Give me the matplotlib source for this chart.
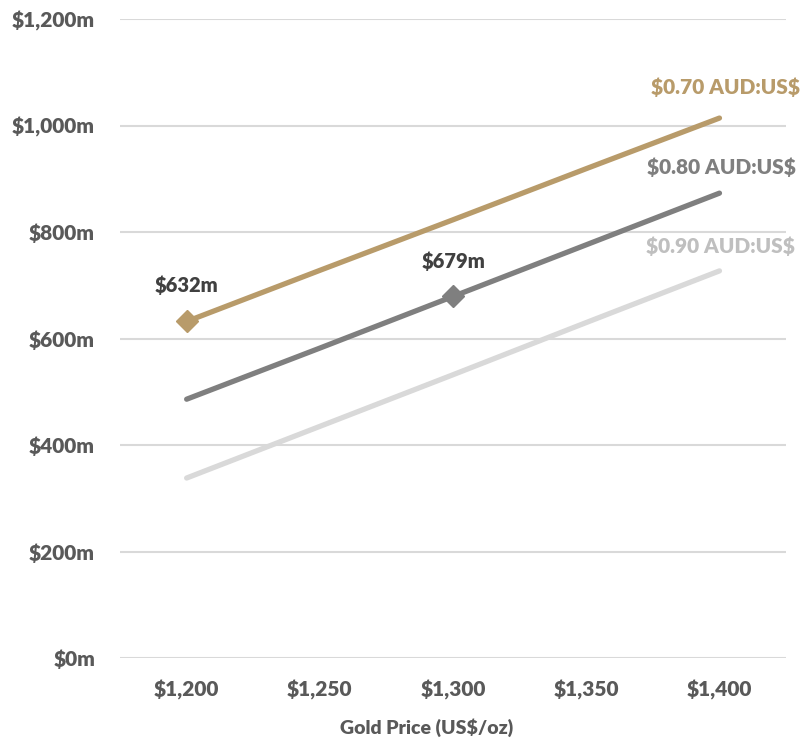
import matplotlib
matplotlib.use("Agg")
import matplotlib.pyplot as plt
from matplotlib import font_manager

plt.rcParams["font.family"] = ["Lato", "DejaVu Sans"]
plt.rcParams["text.parse_math"] = False
print(sorted({(f.name, f.weight) for f in font_manager.fontManager.ttflist if f.name == "Lato"}))

W = "heavy"

gold_prices = ["$1,200", "$1,250", "$1,300", "$1,350", "$1,400"]
aud_070 = [632, 728, 823, 919, 1014]
aud_080 = [486, 582, 679, 776, 873]
aud_090 = [338, 435, 532, 630, 727]
series_names = ["$0.70 AUD:US$", "$0.80 AUD:US$", "$0.90 AUD:US$"]
y_ticks = [0, 200, 400, 600, 800, 1000, 1200]

line_colors = ["#B89B6A", "#7F7F7F", "#D9D9D9"]
text_colors = ["#B89B6A", "#7F7F7F", "#BFBFBF"]
axis_text = "#595959"

fig = plt.figure(figsize=(8.04, 7.43), dpi=100)
ax = fig.add_axes([0.1493, 0.1144, 0.8284, 0.860])

x = list(range(len(gold_prices)))
all_series = [aud_070, aud_080, aud_090]
for vals, col in zip(all_series[::-1], line_colors[::-1]):
    ax.plot(x, vals, color=col, linewidth=3.8, solid_capstyle="round", zorder=3)

# highlighted points
ax.plot(x[0], aud_070[0], marker="D", markersize=11, color=line_colors[0], zorder=4)
ax.plot(x[2], aud_080[2], marker="D", markersize=11, color=line_colors[1], zorder=4)
ax.annotate("${}m".format(aud_070[0]), (x[0], aud_070[0]), xytext=(0, 26),
            textcoords="offset points", ha="center", va="center",
            fontsize=14.5, color="#404040", fontweight=W)
ax.annotate("${}m".format(aud_080[2]), (x[2], aud_080[2]), xytext=(0, 25),
            textcoords="offset points", ha="center", va="center",
            fontsize=14.5, color="#404040", fontweight=W)

# series labels at the line ends
offsets = [(58, 22), (55, 19), (54, 18)]
for vals, name, col, off in zip(all_series, series_names, text_colors, offsets):
    ax.annotate(name, (x[-1], vals[-1]), xytext=off, textcoords="offset points",
                ha="right", va="center", fontsize=15, color=col, fontweight=W,
                annotation_clip=False)

ax.set_xlim(-0.5, 4.5)
ax.set_ylim(0, 1200)
ax.set_xticks(x)
ax.set_xticklabels(gold_prices)
ax.set_yticks(y_ticks)
ax.set_yticklabels(["${:,}m".format(v) for v in y_ticks])
ax.tick_params(length=0, labelsize=15, labelcolor=axis_text)
ax.tick_params(axis="x", pad=16)
ax.tick_params(axis="y", pad=18)
for lab in ax.get_xticklabels() + ax.get_yticklabels():
    lab.set_fontweight(W)

ax.grid(axis="y", color="#D9D9D9", linewidth=1.5, zorder=0)
ax.set_axisbelow(True)
for s in ax.spines.values():
    s.set_visible(False)

ax.set_xlabel("Gold Price (US$/oz)", fontsize=14, color=axis_text, fontweight=W, labelpad=16)
ax.xaxis.set_label_coords(0.461, -0.095)

fig.savefig("out.png", dpi=100)
